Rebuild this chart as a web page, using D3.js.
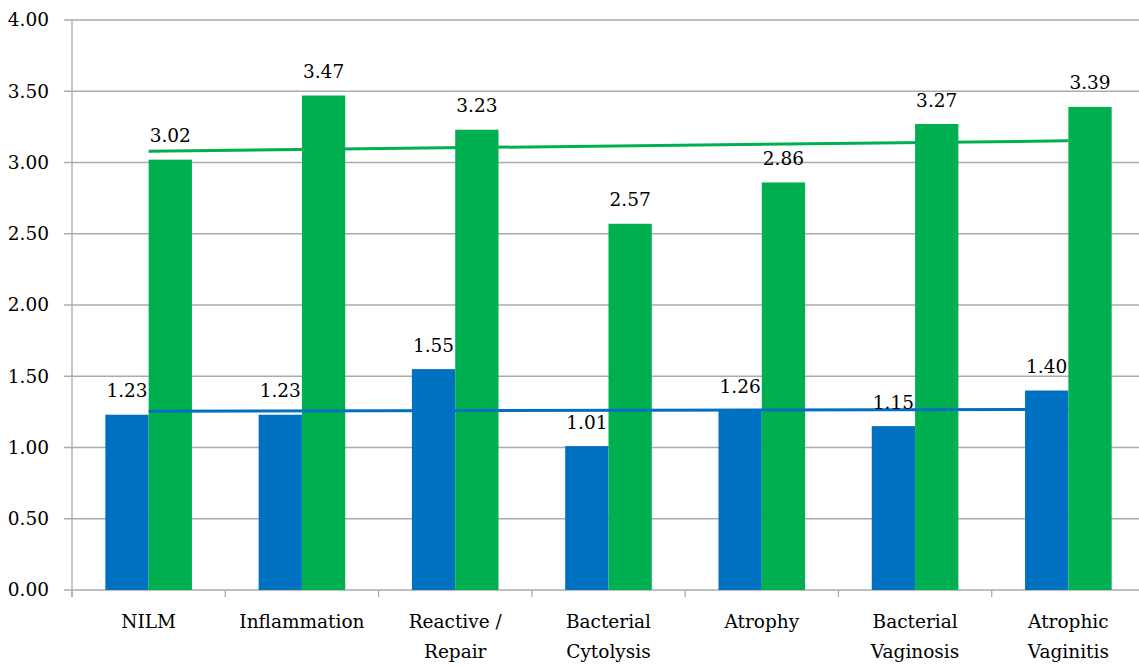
<!DOCTYPE html>
<html>
<head>
<meta charset="utf-8">
<script src="https://cdn.jsdelivr.net/npm/d3@7"></script>
<style>
  html, body { margin: 0; padding: 0; background: #fff; }
  svg { display: block; }
  text { font-family: "Palatino Linotype", "Book Antiqua", "DejaVu Serif", serif; fill: #000; }
</style>
</head>
<body>
<svg id="chart" width="1139" height="668"></svg>
<script>
// Category labels (line breaks as drawn under the axis)
const categories = [
  ["NILM"],
  ["Inflammation"],
  ["Reactive /", "Repair"],
  ["Bacterial", "Cytolysis"],
  ["Atrophy"],
  ["Bacterial", "Vaginosis"],
  ["Atrophic", "Vaginitis"]
];
const blueValues  = [1.23, 1.23, 1.55, 1.01, 1.26, 1.15, 1.40];
const greenValues = [3.02, 3.47, 3.23, 2.57, 2.86, 3.27, 3.39];
const yTicks = [0, 0.5, 1, 1.5, 2, 2.5, 3, 3.5, 4];

const series = [
  { key: "blue",  values: blueValues,  color: "#0070C0" },
  { key: "green", values: greenValues, color: "#00B050" }
];

const svg = d3.select("#chart");
const margin = { left: 72, right: -6, top: 20, bottom: 78 };
const W = 1139, H = 668;
const x0 = margin.left, x1 = W - margin.right;
const yTop = margin.top, yBot = H - margin.bottom;

const idx = categories.map((d, i) => i);
const x = d3.scaleBand().domain(idx).range([x0, x1]).paddingInner(0).paddingOuter(0);
const y = d3.scaleLinear().domain([0, 4]).range([yBot, yTop]);

const bandW = x.bandwidth();
const barW = bandW * 0.2825;
const xs = d3.scaleBand().domain(series.map(s => s.key))
  .range([bandW / 2 - barW, bandW / 2 + barW]);

const fontSize = 18.5;

// Horizontal gridlines
svg.append("g").selectAll("line").data(yTicks).join("line")
  .attr("x1", x0 - 8).attr("x2", x1)
  .attr("y1", d => y(d)).attr("y2", d => y(d))
  .attr("stroke", "#ABABAB").attr("stroke-width", 1.3);

// Y axis line and labels
svg.append("line")
  .attr("x1", x0).attr("x2", x0).attr("y1", yTop).attr("y2", yBot + 7)
  .attr("stroke", "#ABABAB").attr("stroke-width", 1.3);

svg.append("g").selectAll("text").data(yTicks).join("text")
  .attr("x", 49).attr("y", d => y(d))
  .attr("dy", "0.35em")
  .attr("text-anchor", "end")
  .attr("font-size", fontSize)
  .text(d => d3.format(".2f")(d));

// X axis tick marks between categories
const xTickPos = d3.range(categories.length + 1).map(i => x0 + i * bandW);
svg.append("g").selectAll("line").data(xTickPos).join("line")
  .attr("x1", d => d).attr("x2", d => d)
  .attr("y1", yBot).attr("y2", yBot + 7)
  .attr("stroke", "#ABABAB").attr("stroke-width", 1.3);

// Bars
series.forEach(s => {
  svg.append("g").selectAll("rect").data(s.values).join("rect")
    .attr("x", (d, i) => x(i) + xs(s.key))
    .attr("width", xs.bandwidth())
    .attr("y", d => y(d))
    .attr("height", d => y(0) - y(d))
    .attr("fill", s.color);
});

// Linear trendlines (least squares over category positions)
series.forEach(s => {
  const n = s.values.length;
  const xm = d3.mean(idx), ym = d3.mean(s.values);
  const slope = d3.sum(idx, i => (i - xm) * (s.values[i] - ym)) / d3.sum(idx, i => (i - xm) ** 2);
  const fit = i => ym + slope * (i - xm);
  svg.append("line")
    .attr("x1", x(0) + bandW / 2).attr("y1", y(fit(0)))
    .attr("x2", x(n - 1) + bandW / 2).attr("y2", y(fit(n - 1)))
    .attr("stroke", s.color).attr("stroke-width", 3);
});

// Value labels above bars
series.forEach(s => {
  svg.append("g").selectAll("text").data(s.values).join("text")
    .attr("x", (d, i) => x(i) + xs(s.key) + xs.bandwidth() / 2)
    .attr("y", d => y(d) - 17.5)
    .attr("text-anchor", "middle")
    .attr("font-size", fontSize)
    .text(d => d3.format(".2f")(d));
});

// Category labels
const catG = svg.append("g").selectAll("text").data(categories).join("text")
  .attr("text-anchor", "middle")
  .attr("font-size", fontSize);
catG.each(function(lines, i) {
  d3.select(this).selectAll("tspan").data(lines).join("tspan")
    .attr("x", x(i) + bandW / 2)
    .attr("y", (d, j) => yBot + 38 + j * 30)
    .text(d => d);
});
</script>
</body>
</html>
